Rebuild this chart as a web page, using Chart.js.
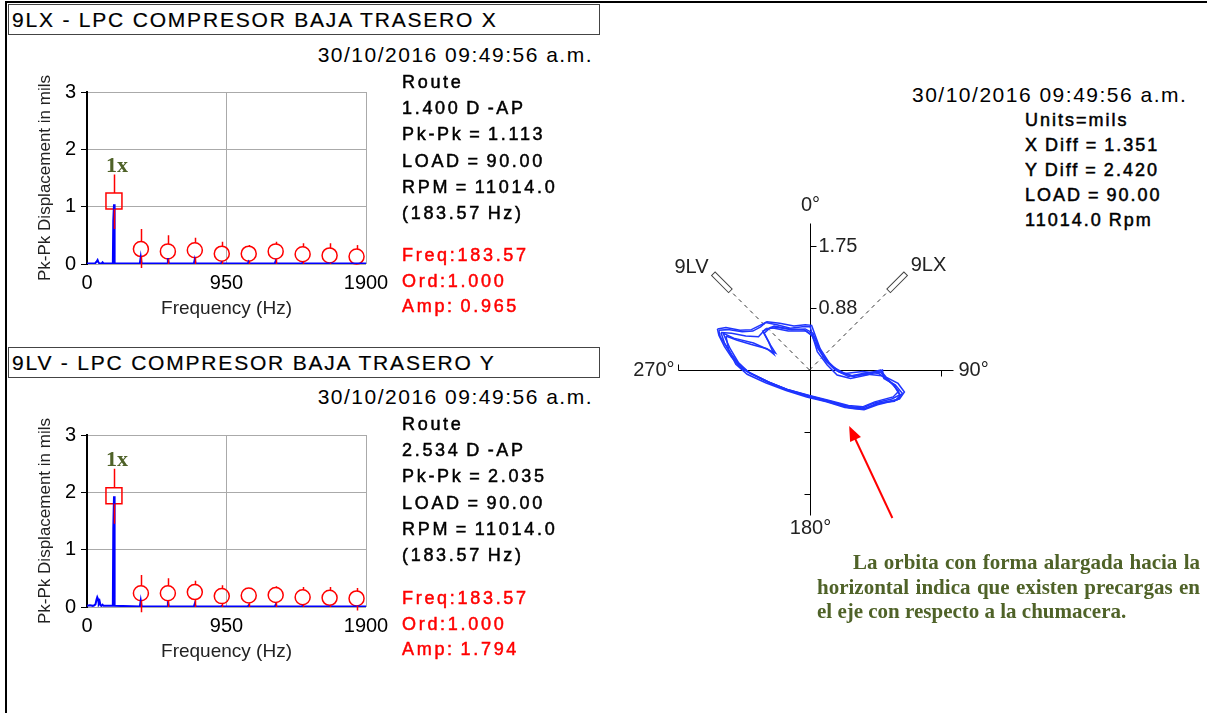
<!DOCTYPE html>
<html lang="es">
<head>
<meta charset="UTF-8">
<title>9LX / 9LV - LPC Compresor Baja Trasero</title>
<script src="https://cdn.jsdelivr.net/npm/chart.js"></script>
<style>
  body { margin:0; width:1207px; height:713px; background:#fff; position:relative; overflow:hidden;
         font-family:"Liberation Sans", Arial, sans-serif; color:#000; }
  .abs { position:absolute; white-space:nowrap; }
  .frameTop { left:5px; top:1px; width:1202px; height:2px; background:#000; }
  .frameLeft { left:5px; top:1px; width:2px; height:712px; background:#000; }
  .hdr { left:8px; width:592px; height:31px; border:1px solid #444; box-sizing:border-box;
         font-size:21px; letter-spacing:1.8px; line-height:29px; padding-left:3px; -webkit-text-stroke:0.2px #000; }
  .date { font-size:21px; letter-spacing:1.5px; line-height:24px; }
  .info { font-size:18px; letter-spacing:2.7px; line-height:26.2px; -webkit-text-stroke:0.5px #000; word-spacing:-2px; }
  .red { color:#ff0000; -webkit-text-stroke:0.5px #ff0000; line-height:25.5px; }
  .orbInfo { font-size:18px; letter-spacing:2px; line-height:25px; -webkit-text-stroke:0.5px #000; word-spacing:-1px; }
  .note { left:817px; width:383px; font-family:"Liberation Serif", "Times New Roman", serif; font-weight:bold;
          font-size:21px; color:#4f6228; line-height:24.5px; white-space:normal; }
  .note div { text-align:justify; text-align-last:justify; white-space:nowrap; }
  .note div.last { text-align-last:left; }
  canvas { position:absolute; }
</style>
</head>
<body>
<div class="abs frameTop"></div>
<div class="abs frameLeft"></div>

<div class="abs hdr" style="top:4px;">9LX - LPC COMPRESOR BAJA TRASERO X</div>
<div class="abs date" style="right:614px; top:43px;">30/10/2016 09:49:56 a.m.</div>
<canvas id="specX" width="380" height="250" style="left:30px; top:75px;"></canvas>
<div class="abs info" style="left:402px; top:69px;">Route<br>1.400 D -AP<br>Pk-Pk = 1.113<br>LOAD = 90.00<br>RPM = 11014.0<br>(183.57 Hz)</div>
<div class="abs info red" style="left:402px; top:243px;">Freq:183.57<br>Ord:1.000<br>Amp: 0.965</div>

<div class="abs hdr" style="top:347px;">9LV - LPC COMPRESOR BAJA TRASERO Y</div>
<div class="abs date" style="right:614px; top:385px;">30/10/2016 09:49:56 a.m.</div>
<canvas id="specY" width="380" height="250" style="left:30px; top:418px;"></canvas>
<div class="abs info" style="left:402px; top:411px;">Route<br>2.534 D -AP<br>Pk-Pk = 2.035<br>LOAD = 90.00<br>RPM = 11014.0<br>(183.57 Hz)</div>
<div class="abs info red" style="left:402px; top:586px;">Freq:183.57<br>Ord:1.000<br>Amp: 1.794</div>

<div class="abs date" style="left:912px; top:83px;">30/10/2016 09:49:56 a.m.</div>
<div class="abs orbInfo" style="left:1025px; top:108px;">Units=mils<br>X Diff = 1.351<br>Y Diff = 2.420<br>LOAD = 90.00<br>11014.0 Rpm</div>
<canvas id="orbit" width="427" height="382" style="left:596px; top:179px;"></canvas>

<div class="abs note" style="top:550px;">
  <div style="text-indent:36px;">La orbita con forma alargada hacia la</div>
  <div>horizontal indica que existen precargas en</div>
  <div class="last">el eje con respecto a la chumacera.</div>
</div>

<script>
// ---- spectrum data ----
const freqTicks = [0, 950, 1900];
const ampTicks = [0, 1, 2, 3];
const harmonicFreq = [183.57, 367.14, 550.71, 734.28, 917.85, 1101.42, 1284.99, 1468.56, 1652.13, 1835.70];

// 9LX spectrum (Hz, mils pk-pk)
const xSpecFreq = [0, 55, 65, 72, 78, 84, 100, 106, 112, 176, 179, 182, 184, 188, 360, 366, 372, 545, 551, 557,
                   728, 734, 740, 912, 918, 924, 1095, 1101, 1107, 1279, 1285, 1291, 1462, 1468, 1474, 1900];
const xSpecAmp = [0.01, 0.01, 0.04, 0.07, 0.03, 0.01, 0.01, 0.03, 0.01, 0.01, 0.75, 0.75, 1.04, 0.01, 0.01, 0.12, 0.01, 0.01, 0.10, 0.01,
                  0.01, 0.08, 0.01, 0.01, 0.03, 0.01, 0.01, 0.04, 0.01, 0.01, 0.05, 0.01, 0.01, 0.02, 0.01, 0.01];
const xMarkAmp = [1.10, 0.26, 0.22, 0.24, 0.18, 0.18, 0.22, 0.17, 0.15, 0.13];
const xMarkTop = [1.56, 0.61, 0.50, 0.46, 0.39, 0.33, 0.39, 0.36, 0.36, 0.33];
const xMarkBottom = [0.61, -0.07, 0, 0, 0, 0, 0, 0, 0, 0];

// 9LV spectrum
const ySpecFreq = [0, 20, 40, 50, 58, 64, 70, 75, 80, 86, 92, 98, 106, 112, 118, 176, 179, 182, 184, 188,
                   360, 366, 372, 545, 551, 557, 728, 734, 740, 912, 918, 924, 1095, 1101, 1107, 1279, 1285, 1291,
                   1462, 1468, 1474, 1900];
const ySpecAmp = [0.02, 0.03, 0.02, 0.03, 0.05, 0.12, 0.17, 0.14, 0.06, 0.10, 0.03, 0.02, 0.04, 0.02, 0.02, 0.02, 1.37, 1.37, 1.93, 0.02,
                  0.01, 0.11, 0.01, 0.01, 0.10, 0.01, 0.01, 0.06, 0.01, 0.01, 0.02, 0.01, 0.01, 0.03, 0.01, 0.01, 0.04, 0.01,
                  0.01, 0.02, 0.01, 0.01];
const yMarkAmp = [1.94, 0.24, 0.24, 0.26, 0.19, 0.20, 0.21, 0.17, 0.16, 0.15];
const yMarkTop = [2.41, 0.56, 0.50, 0.46, 0.38, 0.33, 0.36, 0.35, 0.35, 0.33];
const yMarkBottom = [1.45, -0.09, 0, 0, 0, 0, 0, 0, 0, -0.06];

// ---- orbit data (mils) ----
const orbitTickLabels = ['0.88', '1.75'];
const orbitTickVals = [0.875, 1.75];
const loopAX = [-1.28, -1.15, -0.95, -0.80, -0.69, -0.62, -0.46, -0.27, -0.10, 0.01, 0.04, 0.11, 0.25, 0.39, 0.58, 0.81, 1.03, 1.05, 1.21, 1.31,
                1.24, 0.96, 0.77, 0.58, 0.30, 0.01, -0.27, -0.55, -0.83, -0.95, -1.07, -1.16, -1.26, -1.28];
const loopAY = [0.56, 0.57, 0.54, 0.55, 0.61, 0.67, 0.64, 0.59, 0.61, 0.61, 0.49, 0.26, 0.07, -0.07, -0.12, -0.07, 0.00, -0.12, -0.21, -0.33,
                -0.42, -0.49, -0.56, -0.54, -0.46, -0.38, -0.30, -0.19, -0.05, 0.02, 0.16, 0.31, 0.47, 0.56];
const loopBX = [-1.22, -1.07, -0.79, -0.48, -0.55, -0.64, -0.55, -0.30, -0.05, 0.08, 0.18, 0.32, 0.50, 0.75, 0.98, 1.15, 1.26, 1.18, 0.92,
                0.75, 0.55, 0.28, 0.00, -0.30, -0.58, -0.85, -1.00, -1.12, -1.22];
const loopBY = [0.52, 0.45, 0.38, 0.24, 0.35, 0.52, 0.60, 0.55, 0.55, 0.45, 0.22, 0.05, -0.05, -0.02, -0.05, -0.18, -0.30, -0.38, -0.45,
                -0.52, -0.50, -0.43, -0.36, -0.28, -0.17, -0.04, 0.10, 0.30, 0.52];
const loopCX = [-1.25, -1.10, -0.90, -0.72, -0.62, -0.45, -0.25, -0.06, 0.05, 0.12, 0.22, 0.36, 0.55, 0.80, 1.00, 1.18, 1.28, 1.20, 0.95,
                0.78, 0.56, 0.29, 0.00, -0.28, -0.56, -0.84, -0.98, -1.10, -1.20, -1.25];
const loopCY = [0.53, 0.52, 0.48, 0.47, 0.58, 0.60, 0.57, 0.58, 0.52, 0.33, 0.14, 0.00, -0.09, -0.04, -0.03, -0.20, -0.36, -0.44, -0.47,
                -0.55, -0.52, -0.44, -0.37, -0.29, -0.18, -0.04, 0.06, 0.22, 0.38, 0.53];
const loopDX = [-1.30, -1.18, -0.98, -0.82, -0.70, -0.60, -0.42, -0.22, -0.06, 0.03, 0.07, 0.15, 0.28, 0.42, 0.62, 0.85, 1.00, 1.08, 1.25, 1.34,
                1.27, 0.99, 0.79, 0.57, 0.28, -0.02, -0.30, -0.58, -0.86, -0.98, -1.10, -1.20, -1.28, -1.30];
const loopDY = [0.58, 0.60, 0.56, 0.57, 0.63, 0.68, 0.66, 0.62, 0.64, 0.63, 0.52, 0.30, 0.10, -0.03, -0.09, -0.04, 0.00, -0.10, -0.19, -0.31,
                -0.41, -0.47, -0.54, -0.52, -0.44, -0.36, -0.28, -0.17, -0.03, 0.04, 0.18, 0.33, 0.49, 0.58];
const loopEX = [-1.18, -1.02, -0.82, -0.60, -0.50, -0.58, -0.66, -0.50, -0.28, -0.08, 0.03, 0.12, 0.24, 0.40, 0.60, 0.82, 1.02, 1.20, 1.28, 1.16,
                0.90, 0.72, 0.50, 0.24, -0.04, -0.33, -0.62, -0.88, -1.04, -1.14, -1.18];
const loopEY = [0.48, 0.42, 0.36, 0.30, 0.22, 0.40, 0.55, 0.62, 0.58, 0.57, 0.50, 0.30, 0.12, -0.01, -0.08, -0.06, -0.08, -0.22, -0.35, -0.41,
                -0.47, -0.55, -0.53, -0.45, -0.38, -0.29, -0.18, -0.06, 0.08, 0.28, 0.48];

Chart.defaults.font.family = '"Liberation Sans", Arial, sans-serif';

const RED = '#ff0000';
const OLIVE = '#4f6228';

// red order markers: vertical bars with a gap for the symbol, and "1x" label
const orderMarks = {
  id: 'orderMarks',
  afterDatasetsDraw(chart, args, opts) {
    const { ctx, scales: { x, y } } = chart;
    ctx.save();
    ctx.strokeStyle = RED;
    ctx.lineWidth = 1.5;
    opts.amp.forEach((a, i) => {
      const px = Math.round(x.getPixelForValue(harmonicFreq[i])) + 0.5;
      const pc = y.getPixelForValue(a);
      const half = i === 0 ? 8 : 7.5;
      const pt = y.getPixelForValue(opts.top[i]);
      const pb = y.getPixelForValue(opts.bottom[i]);
      ctx.beginPath();
      if (pt < pc - half) { ctx.moveTo(px, pt); ctx.lineTo(px, pc - half); }
      if (pb > pc + half) { ctx.moveTo(px, pc + half); ctx.lineTo(px, pb); }
      ctx.stroke();
    });
    ctx.fillStyle = OLIVE;
    ctx.font = 'bold 22px "Liberation Serif", "Times New Roman", serif';
    ctx.textAlign = 'center';
    ctx.textBaseline = 'alphabetic';
    ctx.fillText('1x', x.getPixelForValue(harmonicFreq[0]) + 3, y.getPixelForValue(opts.top[0]) - 3);
    ctx.restore();
  }
};

function spectrum(id, freq, amp, mAmp, mTop, mBottom) {
  new Chart(document.getElementById(id), {
    type: 'line',
    data: {
      datasets: [
        {
          data: freq.map((f, i) => ({ x: f, y: amp[i] })),
          borderColor: '#0000ff', borderWidth: 2, pointRadius: 0, tension: 0
        },
        {
          type: 'scatter',
          data: [{ x: harmonicFreq[0], y: mAmp[0] }],
          pointStyle: 'rect', pointRadius: 11.3, pointBorderWidth: 1.5,
          borderColor: RED, backgroundColor: 'rgba(0,0,0,0)', clip: false
        },
        {
          type: 'scatter',
          data: harmonicFreq.slice(1).map((f, i) => ({ x: f, y: mAmp[i + 1] })),
          pointStyle: 'circle', pointRadius: 7.5, pointBorderWidth: 1.5,
          borderColor: RED, backgroundColor: 'rgba(0,0,0,0)', clip: false
        }
      ]
    },
    options: {
      responsive: false,
      animation: false,
      layout: { padding: { top: 16, right: 44, left: 0, bottom: 0 } },
      plugins: {
        legend: { display: false },
        tooltip: { enabled: false },
        orderMarks: { amp: mAmp, top: mTop, bottom: mBottom }
      },
      scales: {
        x: {
          type: 'linear', min: 0, max: 1900,
          afterBuildTicks: s => { s.ticks = freqTicks.map(v => ({ value: v })); },
          ticks: { color: '#000', font: { size: 20 }, padding: 7, maxRotation: 0, callback: v => String(v) },
          grid: { color: '#aaaaaa', drawTicks: false },
          border: { display: false },
          title: { display: true, text: 'Frequency (Hz)', color: '#222', font: { size: 19 }, padding: { top: 0, bottom: 5 } },
          afterFit: s => { s.height = 61; }
        },
        y: {
          min: 0, max: 3,
          afterBuildTicks: s => { s.ticks = ampTicks.map(v => ({ value: v })); },
          ticks: { color: '#000', font: { size: 20 }, padding: 5, callback: v => String(v) },
          grid: { color: '#aaaaaa', tickColor: '#000', tickLength: 6 },
          border: { color: '#000', width: 2 },
          title: { display: true, text: 'Pk-Pk Displacement in mils', color: '#222', font: { size: 17 }, padding: { top: 5, bottom: 0 } },
          afterFit: s => { s.width = 57; }
        }
      }
    },
    plugins: [orderMarks]
  });
}

spectrum('specX', xSpecFreq, xSpecAmp, xMarkAmp, xMarkTop, xMarkBottom);
spectrum('specY', ySpecFreq, ySpecAmp, yMarkAmp, yMarkTop, yMarkBottom);

// orbit axes, probes, labels and annotation arrow
const orbitDecor = {
  id: 'orbitDecor',
  beforeDatasetsDraw(chart) {
    const { ctx, scales: { x, y } } = chart;
    const X = v => Math.round(x.getPixelForValue(v)) + 0.5;
    const Y = v => Math.round(y.getPixelForValue(v)) + 0.5;
    ctx.save();
    ctx.strokeStyle = '#000';
    ctx.lineWidth = 1;
    ctx.beginPath();
    ctx.moveTo(X(-1.85), Y(0)); ctx.lineTo(X(2.03), Y(0));
    ctx.moveTo(X(0), Y(2.07)); ctx.lineTo(X(0), Y(-2.05));
    ctx.moveTo(X(-1.85), Y(0)); ctx.lineTo(X(-1.85), Y(0) - 6);
    ctx.moveTo(X(1.85), Y(0)); ctx.lineTo(X(1.85), Y(0) + 6);
    orbitTickVals.forEach(v => {
      ctx.moveTo(X(0), Y(v)); ctx.lineTo(X(0) + 6, Y(v));
      ctx.moveTo(X(0), Y(-v)); ctx.lineTo(X(0) - 6, Y(-v));
    });
    ctx.stroke();

    ctx.fillStyle = '#222';
    ctx.font = '20px "Liberation Sans", Arial, sans-serif';
    ctx.textBaseline = 'middle';
    ctx.textAlign = 'left';
    orbitTickVals.forEach((v, i) => ctx.fillText(orbitTickLabels[i], X(0) + 8, Y(v)));
    ctx.textAlign = 'center';
    ctx.fillText('0°', X(0), Y(2.33));
    ctx.fillText('180°', X(0), Y(-2.23));
    ctx.fillText('9LV', X(-1.68), Y(1.45));
    ctx.fillText('9LX', X(1.68), Y(1.48));
    ctx.textAlign = 'right';
    ctx.fillText('270°', X(-1.92), Y(0));
    ctx.textAlign = 'left';
    ctx.fillText('90°', X(2.10), Y(0));

    // probes at 45° (9LX) and 135° (9LV)
    [45, 135].forEach(deg => {
      const a = deg * Math.PI / 180;
      const cx = x.getPixelForValue(0), cy = y.getPixelForValue(0);
      const ux = x.getPixelForValue(Math.cos(a)) - cx, uy = y.getPixelForValue(Math.sin(a)) - cy;
      ctx.save();
      ctx.strokeStyle = '#333';
      ctx.setLineDash([4, 4]);
      ctx.beginPath();
      ctx.moveTo(cx, cy);
      ctx.lineTo(cx + ux * 1.58, cy + uy * 1.58);
      ctx.stroke();
      ctx.setLineDash([]);
      ctx.translate(cx + ux * 1.58, cy + uy * 1.58);
      ctx.rotate(Math.atan2(uy, ux));
      const len = Math.hypot(ux, uy) * 0.34;
      ctx.strokeStyle = '#444';
      ctx.strokeRect(0, -2.5, len, 5);
      ctx.restore();
    });
    ctx.restore();
  },
  afterDatasetsDraw(chart) {
    const { ctx, scales: { x, y } } = chart;
    const tx = x.getPixelForValue(0.56), ty = y.getPixelForValue(-0.79);
    const sx = x.getPixelForValue(1.17), sy = y.getPixelForValue(-2.09);
    const ang = Math.atan2(ty - sy, tx - sx);
    ctx.save();
    ctx.strokeStyle = RED;
    ctx.fillStyle = RED;
    ctx.lineWidth = 2;
    ctx.beginPath();
    ctx.moveTo(sx, sy);
    ctx.lineTo(tx - 10 * Math.cos(ang), ty - 10 * Math.sin(ang));
    ctx.stroke();
    ctx.translate(tx, ty);
    ctx.rotate(ang);
    ctx.beginPath();
    ctx.moveTo(0, 0);
    ctx.lineTo(-15, -6);
    ctx.lineTo(-15, 6);
    ctx.closePath();
    ctx.fill();
    ctx.restore();
  }
};

const loops = [[loopAX, loopAY], [loopBX, loopBY], [loopCX, loopCY], [loopDX, loopDY], [loopEX, loopEY]];
new Chart(document.getElementById('orbit'), {
  type: 'scatter',
  data: {
    datasets: loops.map(([lx, ly]) => ({
      data: lx.map((v, i) => ({ x: v, y: ly[i] })),
      showLine: true, pointRadius: 0, borderColor: '#1f35ff', borderWidth: 1.5, tension: 0
    }))
  },
  options: {
    responsive: false,
    animation: false,
    layout: { padding: 1 },
    plugins: { legend: { display: false }, tooltip: { enabled: false } },
    scales: {
      x: { display: false, min: -3, max: 3 },
      y: { display: false, min: -2.6825, max: 2.6825 }
    }
  },
  plugins: [orbitDecor]
});
</script>
</body>
</html>
